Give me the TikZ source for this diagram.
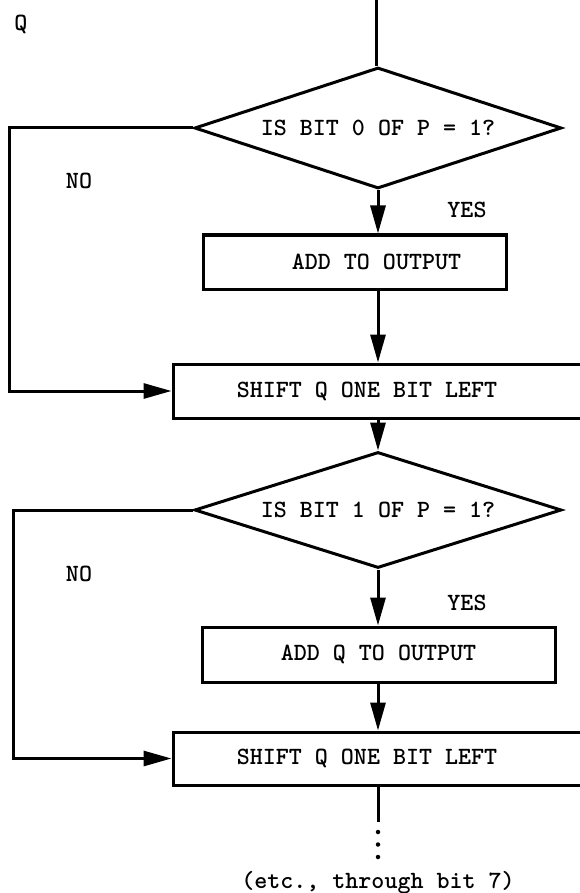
\documentclass[tikz,border=0pt]{standalone}
\usetikzlibrary{positioning,calc,shapes.geometric,arrows.meta}

\begin{document}
\begin{tikzpicture}
		[x=1pt, y=-1pt, line width=3pt,
		font=\fontsize{24.8}{30}\selectfont\ttfamily\bfseries,
		box/.style={draw, rectangle, minimum height=54pt, inner sep=0pt},
		test/.style={draw, diamond, aspect=3, minimum width=367pt, minimum height=121pt, inner sep=0pt},
		flow/.style={-{Triangle[length=28pt, width=15pt]}}]
		\useasboundingbox (0,0) rectangle (579,893);
		\coordinate (entry) at (376,0);
		\node (q) at (21,24) {Q};

		\node[test] (D0) at (378,128) {IS BIT 0 OF P = 1?};
		\node[box, minimum width=303pt] (B0) at (354.5,262) {\hspace*{44pt}ADD TO OUTPUT};
		\node[box, minimum width=412pt] (S0) at (379,391) {SHIFT Q ONE BIT LEFT\hspace*{24pt}};
		\node[test, minimum height=116pt] (D1) at (378,510) {IS BIT 1 OF P = 1?};
		\node[box, minimum width=353pt, minimum height=55pt] (B1) at (378.5,654.5) {ADD Q TO OUTPUT};
		\node[box, minimum width=412pt, minimum height=53pt] (S1) at (379,758.5) {SHIFT Q ONE BIT LEFT\hspace*{24pt}};

		\node (no0) at (79,181) {NO};
		\node (yes0) at (467,210) {YES};
		\node (no1) at (79,574) {NO};
		\node (yes1) at (467,603) {YES};

		\draw (entry) -- (entry |- D0.north);
		\draw[flow] (D0.south) -- (D0.south |- B0.north);
		\draw[flow] (D0.south |- B0.south) -- (D0.south |- S0.north);
		\draw[flow] (D0.west) -- ++(-184,0) |- (S0.west);
		\draw[flow] (D1.north |- S0.south) -- (D1.north);
		\draw[flow] (D1.south) -- (D1.south |- B1.north);
		\draw[flow] (D1.south |- B1.south) -- (D1.south |- S1.north);
		\draw[flow] (D1.west) -- ++(-180,0) |- (S1.west);

		% more bits follow
		\coordinate (tail) at (378,822);
		\draw (D1.south |- S1.south) -- (tail);
		\draw[line width=4.5pt, line cap=round, dash pattern=on 0pt off 12.5pt] ($(tail)+(0,10)$) -- ($(tail)+(0,38)$);
		\node[below=44pt of tail] (etc) {(etc., through bit 7)};
	\end{tikzpicture}
\end{document}
